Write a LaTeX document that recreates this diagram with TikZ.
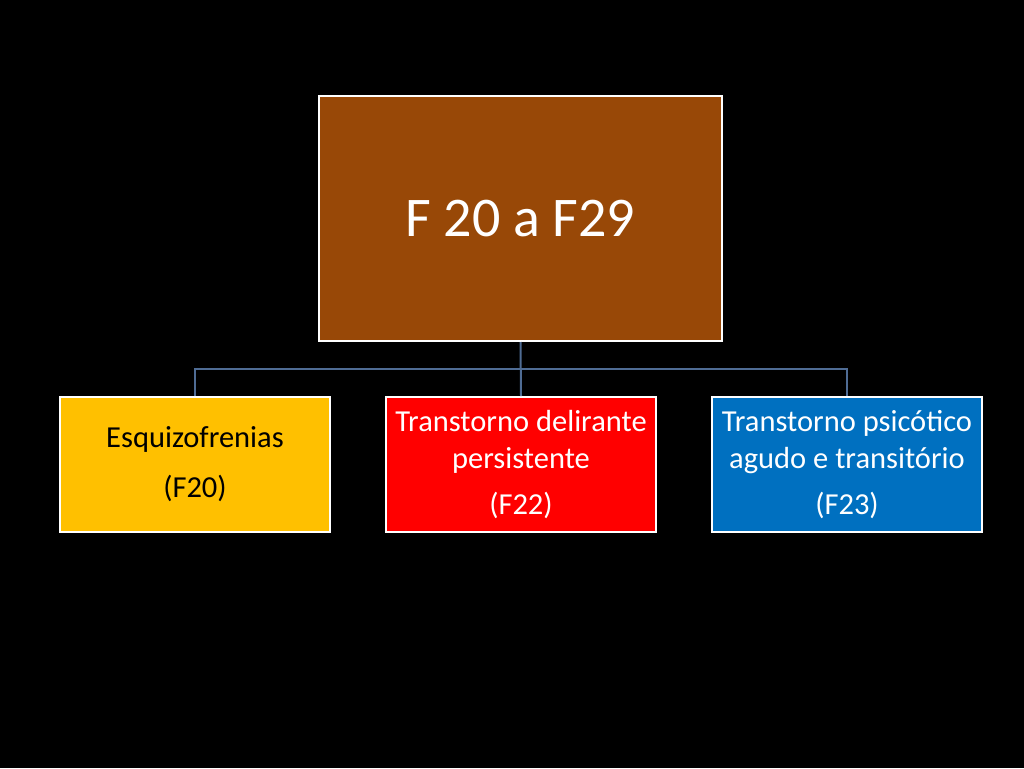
\documentclass[tikz,border=0pt]{standalone}
\usepackage{fontspec}
\setmainfont{Carlito}
\usepackage{xcolor}
\usetikzlibrary{positioning}
\definecolor{brownbg}{HTML}{984807}
\definecolor{goldbg}{HTML}{FFC000}
\definecolor{redbg}{HTML}{FF0000}
\definecolor{bluebg}{HTML}{0070C0}
\definecolor{linkline}{HTML}{4F6C94}
\tikzset{
  topbox/.style={draw=white, line width=2pt, fill=brownbg, text=white, align=center, inner sep=0pt, minimum width=403pt, minimum height=245pt, font=\fontsize{56}{64}\selectfont},
  subbox/.style={draw=white, line width=2pt, align=center, inner sep=0pt, minimum width=270pt, minimum height=135pt, font=\fontsize{30.5}{37}\selectfont},
  link/.style={draw=linkline, line width=2pt}
}
\begin{document}
\begin{tikzpicture}[x=1pt,y=-1pt]
  \useasboundingbox[fill=black] (0,0) rectangle (1024,768);

  % top box
  \node[topbox] (fgroup) at (520.5,218.5) {F 20 a F29};

  % three categories
  \node[subbox, fill=goldbg, text=black] (esq) at (195,464.5) {Esquizofrenias\\[13pt](F20)};
  \node[subbox, fill=redbg, text=white] (delir) at (521,464.5) {Transtorno delirante\\persistente\\[9pt](F22)};
  \node[subbox, fill=bluebg, text=white] (agudo) at (847,464.5) {Transtorno psicótico\\agudo e transitório\\[9pt](F23)};

  % connectors
  \coordinate (bus) at (521,369);
  \draw[link] (fgroup.south) -- (delir.north);
  \draw[link] (esq.north) |- (bus) -| (agudo.north);

\end{tikzpicture}
\end{document}
